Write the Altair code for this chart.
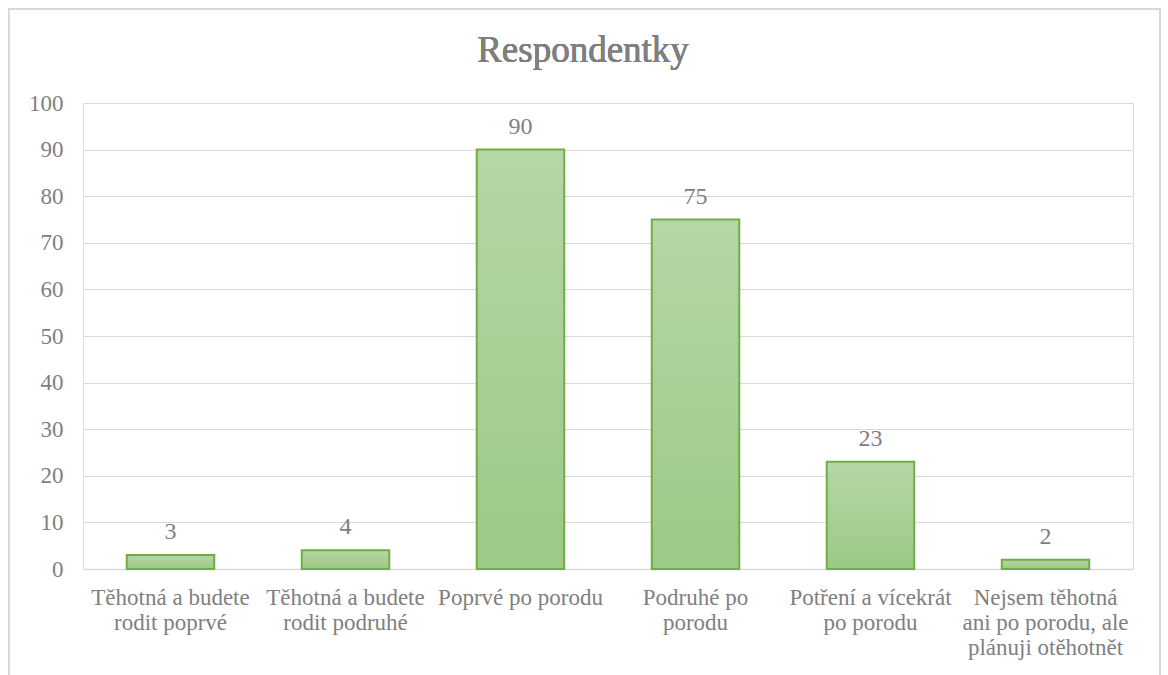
import altair as alt
import pandas as pd

title_text = "Respondentky"
categories = [
    "Těhotná a budete|rodit poprvé",
    "Těhotná a budete|rodit podruhé",
    "Poprvé po porodu",
    "Podruhé po|porodu",
    "Potření a vícekrát|po porodu",
    "Nejsem těhotná|ani po porodu, ale|plánuji otěhotnět",
]
values = [3, 4, 90, 75, 23, 2]

df = pd.DataFrame({"cat": categories, "val": values})

FONT = "Liberation Serif"
GRAY = "#7f7f7f"

x = alt.X(
    "cat:N",
    sort=categories,
    title=None,
    scale=alt.Scale(paddingInner=0.5, paddingOuter=0.25),
    axis=alt.Axis(
        labelExpr="split(datum.label, '|')",
        labelAngle=0,
        labelFont=FONT,
        labelFontSize=23,
        labelColor=GRAY,
        labelLimit=0,
        labelOverlap=False,
        labelLineHeight=25,
        labelPadding=17,
        labelBaseline="top",
        ticks=False,
        domainColor="#d9d9d9",
        domainWidth=1.5,
        grid=False,
    ),
)
y = alt.Y(
    "val:Q",
    title=None,
    scale=alt.Scale(domain=[0, 100], nice=False),
    axis=alt.Axis(
        values=list(range(0, 101, 10)),
        labelFont=FONT,
        labelFontSize=23,
        labelColor=GRAY,
        labelPadding=20,
        ticks=False,
        domain=False,
        gridColor="#d9d9d9",
        gridWidth=1.2,
    ),
)

grad = alt.Gradient(
    gradient="linear",
    stops=[
        alt.GradientStop(color="#b6d6a6", offset=0),
        alt.GradientStop(color="#9cc985", offset=1),
    ],
    x1=0, x2=0, y1=0, y2=1,
)

bars = alt.Chart(df).mark_bar(
    color=grad, stroke="#70ad47", strokeWidth=2
).encode(x=x, y=y)

labels = alt.Chart(df).mark_text(
    font=FONT, fontSize=24, color=GRAY, baseline="alphabetic", dy=-16
).encode(x=alt.X("cat:N", sort=categories), y="val:Q", text="val:Q")

frame = alt.Chart(df).mark_rect(
    fill=None, stroke="#d9d9d9", strokeWidth=1.5
).encode(
    x=alt.value(-74), x2=alt.value(1077), y=alt.value(-94), y2=alt.value(700)
)

title = alt.Chart(df).mark_text(
    font=FONT, fontSize=37, color=GRAY, align="center", baseline="alphabetic"
).encode(x=alt.value(500), y=alt.value(-41), text=alt.value(title_text))

chart = alt.layer(frame, bars, labels, title).properties(
    width=1050,
    height=466,
    autosize=alt.AutoSizeParams(type="none"),
    padding={"left": 83, "top": 103, "right": 35, "bottom": 106},
).configure_view(stroke=None).configure(background="white")

chart.save("out.html", embed_options={"renderer": "svg", "actions": False})
